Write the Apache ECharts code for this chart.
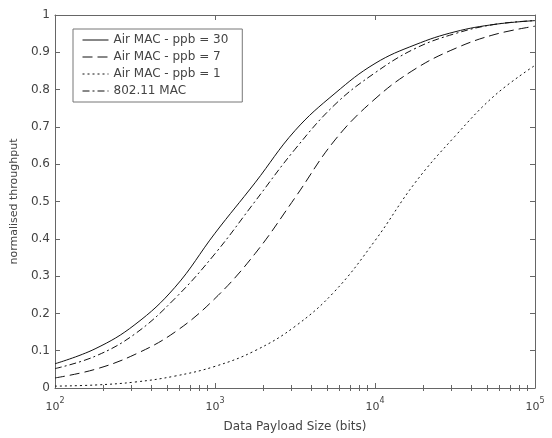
<!DOCTYPE html>
<html lang="en">
<head>
  <meta charset="UTF-8">
  <script type="text/javascript" src="https://cdn.jsdelivr.net/npm/echarts@6/dist/echarts.min.js"></script>
  <title>normalised throughput</title>
  <style type="text/css">
    * {
      margin: 0;
      padding: 0;
    }

    html, body {
      width: 100%;
      height: 100%;
      background-color: #fff;
    }

    #chart {
      width: 552px;
      height: 438px;
    }
  </style>
</head>

<body>
<div id="chart"></div>
</body>
<script type="text/javascript">
  // payload sizes (bits), quarter-decade steps
  var payloadSizes = [100, 178, 316, 562, 1000, 1778, 3162, 5623, 10000, 17783, 31623, 56234, 100000]

  var airMac30 = [0.065, 0.105, 0.17, 0.27, 0.415, 0.55, 0.69, 0.79, 0.87, 0.92, 0.955, 0.975, 0.985]
  var airMac7 = [0.027, 0.05, 0.09, 0.15, 0.24, 0.36, 0.51, 0.665, 0.775, 0.855, 0.91, 0.948, 0.97]
  var airMac1 = [0.005, 0.008, 0.016, 0.032, 0.058, 0.10, 0.165, 0.26, 0.395, 0.55, 0.675, 0.785, 0.865]
  var mac80211 = [0.052, 0.085, 0.145, 0.24, 0.36, 0.50, 0.64, 0.76, 0.845, 0.91, 0.95, 0.975, 0.985]

  var seriesNames = ['Air MAC - ppb = 30', 'Air MAC - ppb = 7', 'Air MAC - ppb = 1', '802.11 MAC']
  var yTicks = ['0', '0.1', '0.2', '0.3', '0.4', '0.5', '0.6', '0.7', '0.8', '0.9', '1']
  var minorX = [200, 300, 400, 500, 600, 700, 800, 900,
    2000, 3000, 4000, 5000, 6000, 7000, 8000, 9000,
    20000, 30000, 40000, 50000, 60000, 70000, 80000, 90000]

  function pairs(ys) {
    return ys.map(function (v, i) {
      return [payloadSizes[i], v]
    })
  }

  var axisColor = '#666'
  var textColor = '#444'
  var font = 'DejaVu Sans'

  function logAxis(pos, showLabel) {
    return {
      type: 'log',
      logBase: 10,
      min: 100,
      max: 100000,
      position: pos,
      axisLine: {show: true, onZero: false, lineStyle: {color: axisColor, width: 1}},
      axisTick: {show: true, inside: true, length: 5, lineStyle: {color: axisColor}},
      splitLine: {show: false},
      axisLabel: {
        show: !!showLabel,
        margin: 9,
        formatter: function (v) {
          var e = Math.round(Math.log(v) / Math.LN10)
          return '{b|10}{s|' + e + '}'
        },
        rich: {
          b: {fontFamily: font, fontSize: 11, color: textColor, verticalAlign: 'bottom', lineHeight: 16},
          s: {fontFamily: font, fontSize: 8, color: textColor, verticalAlign: 'top', lineHeight: 16}
        }
      }
    }
  }

  // minor ticks of the log axis, placed on a linear axis in log10 units
  function minorAxis(pos) {
    return {
      type: 'value',
      min: 2,
      max: 5,
      position: pos,
      axisLine: {show: false},
      axisTick: {
        show: true, inside: true, length: 3,
        customValues: minorX.map(function (v) {
          return Math.log(v) / Math.LN10
        }),
        lineStyle: {color: axisColor}
      },
      splitLine: {show: false},
      axisLabel: {show: false}
    }
  }

  var lineStyles = [
    {color: '#111', width: 1, type: 'solid'},
    {color: '#111', width: 1, type: [10, 5]},
    {color: '#111', width: 1, type: [2, 3]},
    {color: '#111', width: 1, type: [7, 3, 2, 3]}
  ]
  var values = [airMac30, airMac7, airMac1, mac80211]

  var myChart = echarts.init(document.getElementById('chart'))
  var option = {
    backgroundColor: '#fff',
    animation: false,
    grid: {left: 55, right: 17, top: 15, bottom: 48, containLabel: false},
    legend: {
      orient: 'vertical',
      left: 73,
      top: 29,
      width: 170,
      padding: [5, 14, 5, 9],
      itemWidth: 26,
      itemHeight: 14,
      itemGap: 5,
      backgroundColor: '#fff',
      borderColor: '#777',
      borderWidth: 1,
      borderRadius: 0,
      itemStyle: {opacity: 0},
      lineStyle: {width: 1},
      textStyle: {fontFamily: font, fontSize: 12, color: textColor},
      data: seriesNames
    },
    xAxis: [
      Object.assign(logAxis('bottom', true), {
        name: 'Data Payload Size (bits)',
        nameLocation: 'middle',
        nameGap: 33,
        nameTextStyle: {fontFamily: font, fontSize: 12, color: textColor}
      }),
      minorAxis('bottom'),
      logAxis('top', false),
      minorAxis('top')
    ],
    yAxis: [
      {
        type: 'value',
        min: 0,
        max: 1,
        interval: 0.1,
        position: 'left',
        name: 'normalised throughput',
        nameLocation: 'middle',
        nameGap: 34,
        nameTextStyle: {fontFamily: font, fontSize: 11, color: textColor},
        axisLine: {show: true, lineStyle: {color: axisColor}},
        axisTick: {show: true, inside: true, length: 5, lineStyle: {color: axisColor}},
        splitLine: {show: false},
        axisLabel: {
          margin: 5,
          fontFamily: font,
          fontSize: 12,
          color: textColor,
          formatter: function (v) {
            return yTicks[Math.round(v * 10)]
          }
        }
      },
      {
        type: 'value',
        min: 0,
        max: 1,
        interval: 0.1,
        position: 'right',
        axisLine: {show: true, lineStyle: {color: axisColor}},
        axisTick: {show: true, inside: true, length: 5, lineStyle: {color: axisColor}},
        splitLine: {show: false},
        axisLabel: {show: false}
      }
    ],
    series: seriesNames.map(function (name, i) {
      return {
        name: name,
        type: 'line',
        xAxisIndex: 0,
        yAxisIndex: 0,
        smooth: 0.4,
        symbol: 'none',
        lineStyle: lineStyles[i],
        itemStyle: {color: '#111'},
        data: pairs(values[i])
      }
    })
  }
  myChart.setOption(option)
</script>
</html>
